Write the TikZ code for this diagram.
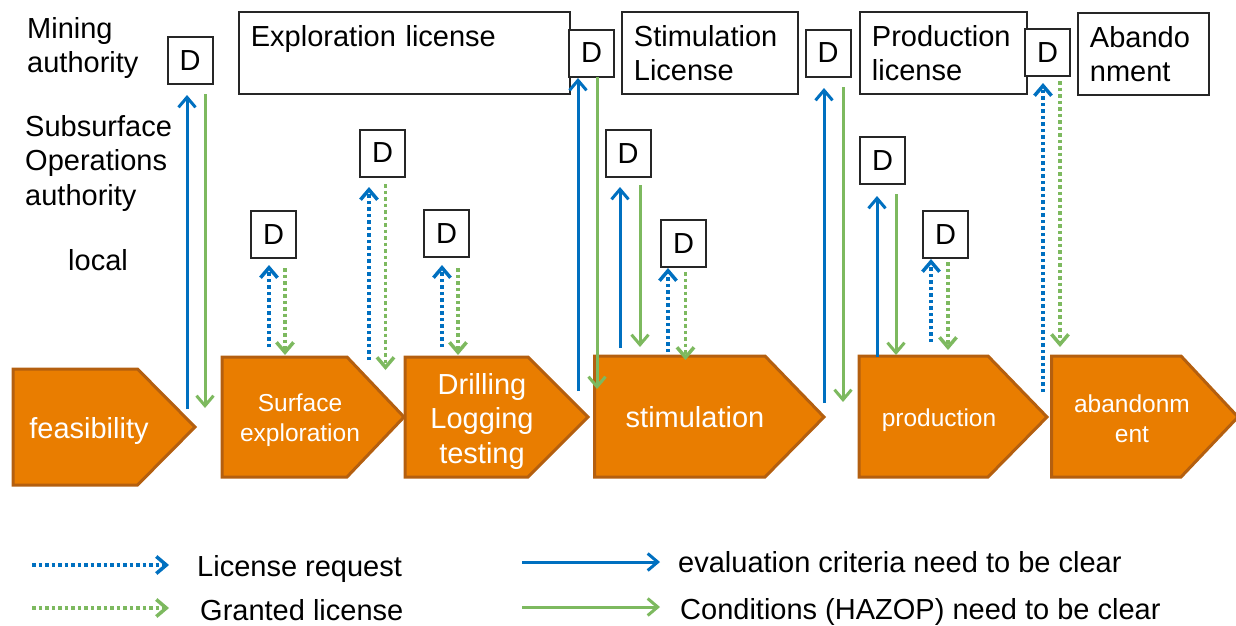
\documentclass[tikz,border=0pt]{standalone}
\usepackage{fontspec}
\setmainfont{Liberation Sans}
\usetikzlibrary{arrows.meta}
\definecolor{cblue}{RGB}{0,112,192}
\definecolor{cgreen}{RGB}{125,185,95}
\definecolor{corange}{RGB}{233,125,0}
\definecolor{cborder}{RGB}{180,95,15}
\newcommand\myarrow[5]{\coordinate (#1s) at (#3,#4); \coordinate (#1e) at (#3,#5); \draw[#2] (#1s) -- (#1e);}
\begin{document}
\begin{tikzpicture}[x=1pt,y=-1pt,
 every node/.style={font=\fontsize{29}{34.5}\selectfont},
 small/.style={font=\fontsize{24.5}{30}\selectfont},
 dbox/.style={draw=black!85,line width=2pt,minimum width=45pt,minimum height=47pt,inner sep=0pt,fill=white},
 lbox/.style={draw=black!85,line width=1.8pt,minimum height=82pt,inner xsep=12pt,inner ysep=0pt,align=left,anchor=north west,fill=white},
 stage/.style={fill=corange,draw=cborder,line width=3pt,line join=miter},
 stext/.style={text=white,align=center,inner sep=0pt},
 lab/.style={inner sep=0pt,anchor=west,align=left},
 tip/.style={-{Straight Barb[length=10pt,width=17pt]}},
 req/.style={tip,cblue,line width=3.5pt,dash pattern=on 3.5pt off 3pt},
 gra/.style={tip,cgreen,line width=3.5pt,dash pattern=on 3.5pt off 3pt},
 eva/.style={tip,cblue,line width=3pt},
 con/.style={tip,cgreen,line width=3pt}]
\useasboundingbox (0,0) rectangle (1236,625);
% left labels
\node[lab] (mining) at (27,48) {Mining\\authority};
\node[lab] (subsurf) at (25,163) {Subsurface\\Operations\\authority};
\node[lab] (local) at (68,260) {local};
% top license boxes
\node[lbox,text width=307pt] (expl) at (238,11) {Exploration license\\[-6pt]\phantom{Lg}};
\node[lbox,text width=152pt] (stiml) at (621,11) {Stimulation\\License};
\node[lbox,text width=143pt] (prodl) at (859,11) {Production\\license};
\node[lbox,text width=107pt] (abanl) at (1077,12) {Abando\\nment};
% D boxes
\node[dbox] (Dm1) at (190,60.5) {D};
\node[dbox] (Dm2) at (591.5,53) {D};
\node[dbox] (Dm3) at (828,53) {D};
\node[dbox] (Dm4) at (1047.5,52.5) {D};
\node[dbox] (Ds1) at (382.5,153) {D};
\node[dbox] (Ds2) at (628,153.5) {D};
\node[dbox] (Ds3) at (882.5,160.5) {D};
\node[dbox] (Dl1) at (273.5,234.5) {D};
\node[dbox] (Dl2) at (446.5,233.5) {D};
\node[dbox] (Dl3) at (683.5,243.5) {D};
\node[dbox] (Dl4) at (945.5,234.5) {D};
% stages
\path[stage] (13,369) -- (137.5,369) -- (195,427) -- (137.5,485) -- (13,485) -- cycle;
\node[stext] (feas) at (89,431) {feasibility};
\path[stage] (222,357) -- (347,357) -- (404,417) -- (347,477) -- (222,477) -- cycle;
\node[stext,small] (surf) at (300,420.5) {Surface\\exploration};
\path[stage] (405,357) -- (528,357) -- (588,417) -- (528,477) -- (405,477) -- cycle;
\node[stext] (drill) at (482,421) {Drilling\\Logging\\testing};
\path[stage] (594.5,356) -- (765,356) -- (824,417) -- (765,477) -- (594.5,477) -- cycle;
\node[stext] (stim) at (695,417) {stimulation};
\path[stage] (859,356) -- (988,356) -- (1047,417) -- (988,477) -- (859,477) -- cycle;
\node[stext,small] (prod) at (939,420) {production};
\path[stage] (1051.5,356) -- (1181,356) -- (1238,417) -- (1181,477) -- (1051.5,477) -- cycle;
\node[stext,small] (aban) at (1132,418.5) {abandonm\\ent};
% arrows
\myarrow{a1}{eva}{187}{409}{95}
\myarrow{b1}{con}{205}{94}{408}
\myarrow{a2}{req}{269}{347}{265}
\myarrow{b2}{gra}{285}{268}{355}
\myarrow{a3}{req}{369}{360}{187}
\myarrow{b3}{gra}{385.5}{184}{370}
\myarrow{a4}{req}{442}{347}{265}
\myarrow{b4}{gra}{458}{268}{355}
\myarrow{a5}{eva}{578}{391}{78}
\myarrow{b5}{con}{597}{77}{389}
\myarrow{a6}{eva}{620}{348}{187}
\myarrow{b6}{con}{640}{185}{347}
\myarrow{a7}{req}{668}{352}{268}
\myarrow{b7}{gra}{685.5}{272}{360}
\myarrow{a8}{eva}{824}{403}{88}
\myarrow{b8}{con}{843}{87}{402}
\myarrow{a9}{eva}{877}{357}{196}
\myarrow{b9}{con}{896}{194}{355}
\myarrow{a10}{req}{931}{342}{259}
\myarrow{b10}{gra}{948}{262}{350}
\myarrow{a11}{req}{1043}{392}{83}
\myarrow{b11}{gra}{1060}{81}{347}
% legend
\coordinate (l1s) at (32,565); \coordinate (l1e) at (169,565);
\coordinate (l2s) at (32,608); \coordinate (l2e) at (169,608);
\coordinate (l3s) at (522,562); \coordinate (l3e) at (660,562);
\coordinate (l4s) at (522,607); \coordinate (l4e) at (660,607);
\draw[req] (l1s) -- (l1e);
\draw[gra] (l2s) -- (l2e);
\draw[eva] (l3s) -- (l3e);
\draw[con] (l4s) -- (l4e);
\node[lab] (lreq) at (197,569) {License request};
\node[lab] (lgra) at (200,610) {Granted license};
\node[lab] (leva) at (678,562) {evaluation criteria need to be clear};
\node[lab] (lcon) at (680,612) {Conditions (HAZOP) need to be clear};
\end{tikzpicture}
\end{document}
